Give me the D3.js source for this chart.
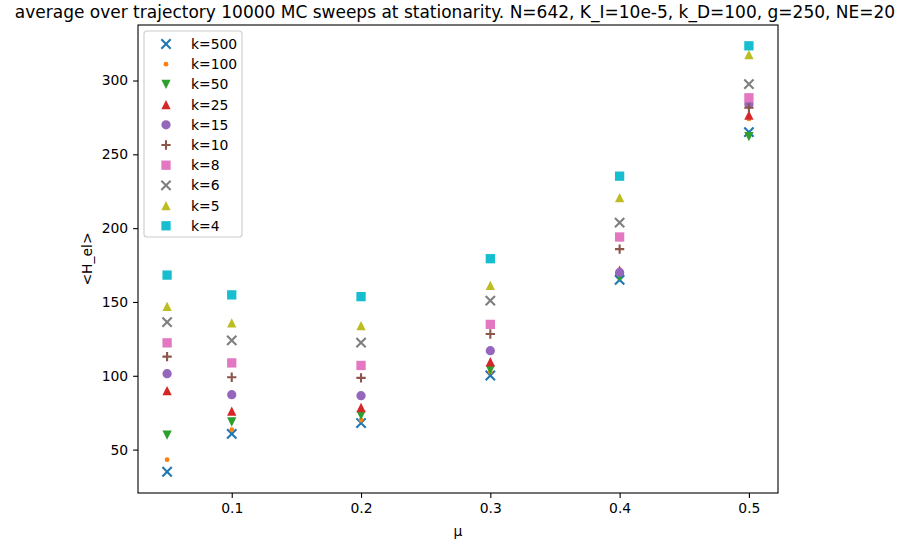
<!DOCTYPE html>
<html>
<head>
<meta charset="utf-8">
<script src="https://cdn.jsdelivr.net/npm/d3@7"></script>
<style>
  body { margin: 0; background: #fff; }
  svg { font-family: "DejaVu Sans", sans-serif; }
</style>
</head>
<body>
<div id="chart"></div>
<script>
var svgWidth = 909;
var svgHeight = 541;

var margin = { top: 25, right: 131, bottom: 48, left: 138 };
var width = svgWidth - margin.left - margin.right;
var height = svgHeight - margin.top - margin.bottom;

// data
var mu = [0.05, 0.1, 0.2, 0.3, 0.4, 0.5];
var kLabels = ["k=500", "k=100", "k=50", "k=25", "k=15", "k=10", "k=8", "k=6", "k=5", "k=4"];
var k500 = [35, 60.6, 68, 100.2, 165, 265];
var k100 = [43.2, 63.5, 70, 102.5, 168, 274];
var k50 = [59.8, 68.7, 73.2, 104, 166.7, 262];
var k25 = [90, 76, 78.5, 109.5, 171.6, 276.5];
var k15 = [101.4, 87.2, 86.5, 117, 170, 284];
var k10 = [113, 99, 98.6, 128.3, 185.8, 281.5];
var k8 = [122.3, 108.7, 107, 134.8, 194, 288.3];
var k6 = [136.3, 124, 122.4, 150.9, 203.8, 297.5];
var k5 = [147, 135.8, 134, 161.3, 220.7, 317.5];
var k4 = [168.2, 154.8, 153.6, 179.3, 235.2, 323.5];
var xTicks = [0.1, 0.2, 0.3, 0.4, 0.5];
var yTicks = [50, 100, 150, 200, 250, 300];

var seriesValues = [k500, k100, k50, k25, k15, k10, k8, k6, k5, k4];
var markers = ["x", ".", "v", "^", "o", "+", "s", "x", "^", "s"];
var colors = ["#1f77b4", "#ff7f0e", "#2ca02c", "#d62728", "#9467bd",
              "#8c564b", "#e377c2", "#7f7f7f", "#bcbd22", "#17becf"];

var series = kLabels.map(function(lab, i) {
  return {
    label: lab,
    marker: markers[i],
    color: colors[i],
    points: mu.map(function(m, j) { return { mu: m, h: seriesValues[i][j] }; })
  };
});

var markerSize = 9.3;

// matplotlib-like marker shapes, s = marker size in px
function markerPath(type, s) {
  var h = s / 2;
  switch (type) {
    case "s": return "M" + (-h) + "," + (-h) + "H" + h + "V" + h + "H" + (-h) + "Z";
    case "^": return "M0," + (-h) + "L" + h + "," + h + "L" + (-h) + "," + h + "Z";
    case "v": return "M0," + h + "L" + h + "," + (-h) + "L" + (-h) + "," + (-h) + "Z";
    case "o": return d3.arc()({ innerRadius: 0, outerRadius: h, startAngle: 0, endAngle: 2 * Math.PI });
    case ".": return d3.arc()({ innerRadius: 0, outerRadius: h * 0.52, startAngle: 0, endAngle: 2 * Math.PI });
    case "x": return "M" + (-h) + "," + (-h) + "L" + h + "," + h + "M" + (-h) + "," + h + "L" + h + "," + (-h);
    case "+": return "M" + (-h) + ",0H" + h + "M0," + (-h) + "V" + h;
  }
}
function isLine(type) { return type === "x" || type === "+"; }

var svg = d3.select("#chart")
  .append("svg")
  .attr("width", svgWidth)
  .attr("height", svgHeight);

var chartGroup = svg.append("g")
  .attr("transform", `translate(${margin.left}, ${margin.top})`);

var xLinearScale = d3.scaleLinear()
  .domain([0.0275, 0.5225])
  .range([0, width]);

var yLinearScale = d3.scaleLinear()
  .domain([20.6, 337.6])
  .range([height, 0]);

var bottomAxis = d3.axisBottom(xLinearScale)
  .tickValues(xTicks)
  .tickFormat(d3.format(".1f"))
  .tickSize(4.9)
  .tickPadding(4.9);
var leftAxis = d3.axisLeft(yLinearScale)
  .tickValues(yTicks)
  .tickSize(4.9)
  .tickPadding(4.9);

var xAxisG = chartGroup.append("g")
  .attr("transform", `translate(0, ${height})`)
  .call(bottomAxis);
var yAxisG = chartGroup.append("g")
  .call(leftAxis);

[xAxisG, yAxisG].forEach(function(g) {
  g.select(".domain").remove();
  g.selectAll(".tick line").attr("stroke", "#000").attr("stroke-width", 1.1);
  g.selectAll(".tick text")
    .attr("fill", "#000")
    .attr("font-size", "13.9px")
    .attr("font-family", "DejaVu Sans, sans-serif");
});

// points, first series at the bottom
series.forEach(function(s) {
  chartGroup.append("g").selectAll("path")
    .data(s.points)
    .enter()
    .append("path")
    .attr("transform", d => `translate(${xLinearScale(d.mu)}, ${yLinearScale(d.h)})`)
    .attr("d", markerPath(s.marker, markerSize))
    .attr("fill", isLine(s.marker) ? "none" : s.color)
    .attr("stroke", isLine(s.marker) ? s.color : "none")
    .attr("stroke-width", 2.1);
});

// frame
chartGroup.append("rect")
  .attr("x", 0)
  .attr("y", 0)
  .attr("width", width)
  .attr("height", height)
  .attr("fill", "none")
  .attr("stroke", "#000")
  .attr("stroke-width", 1.1);

// legend
var legend = chartGroup.append("g")
  .attr("transform", "translate(6, 6)");

legend.append("rect")
  .attr("x", 0)
  .attr("y", 0)
  .attr("width", 98)
  .attr("height", 206)
  .attr("rx", 3)
  .attr("fill", "#fff")
  .attr("fill-opacity", 0.8)
  .attr("stroke", "#cccccc")
  .attr("stroke-width", 1.1);

var rows = legend.selectAll("g.row")
  .data(series)
  .enter()
  .append("g")
  .attr("class", "row")
  .attr("transform", (d, i) => `translate(22, ${13 + i * 20.2})`);

rows.append("path")
  .attr("d", d => markerPath(d.marker, markerSize))
  .attr("fill", d => isLine(d.marker) ? "none" : d.color)
  .attr("stroke", d => isLine(d.marker) ? d.color : "none")
  .attr("stroke-width", 2.1);

rows.append("text")
  .attr("x", 25)
  .attr("y", 5)
  .attr("font-size", "13.9px")
  .attr("fill", "#000")
  .text(d => d.label);

// labels
chartGroup.append("text")
  .attr("x", width / 2)
  .attr("y", height + 43)
  .attr("text-anchor", "middle")
  .attr("font-size", "13.9px")
  .text("μ");

chartGroup.append("text")
  .attr("transform", "rotate(-90)")
  .attr("x", -height / 2)
  .attr("y", -46)
  .attr("text-anchor", "middle")
  .attr("font-size", "13.9px")
  .text("<H_el>");

svg.append("text")
  .attr("x", margin.left + width / 2 - 3)
  .attr("y", 18)
  .attr("text-anchor", "middle")
  .attr("font-size", "17px")
  .text("average over trajectory 10000 MC sweeps at stationarity. N=642, K_I=10e-5, k_D=100, g=250, NE=20");
</script>
</body>
</html>
